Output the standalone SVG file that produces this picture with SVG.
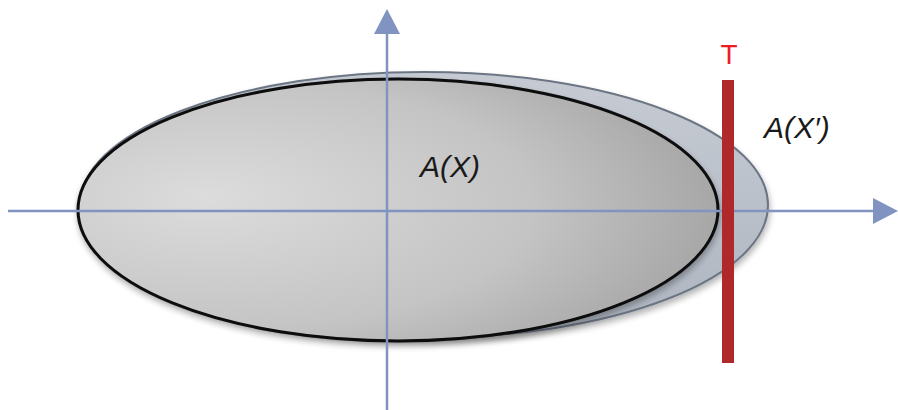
<svg xmlns="http://www.w3.org/2000/svg" width="898" height="410" viewBox="0 0 898 410">
<defs>
<radialGradient id="gFront" cx="0.25" cy="0.5" r="0.8" fx="0.2" fy="0.45">
<stop offset="0" stop-color="#dcdcdc"/>
<stop offset="0.6" stop-color="#c4c4c4"/>
<stop offset="1" stop-color="#a2a2a2"/>
</radialGradient>
<linearGradient id="gBack" x1="0" y1="0" x2="0" y2="1">
<stop offset="0" stop-color="#c6cbd3"/>
<stop offset="1" stop-color="#aeb5c0"/>
</linearGradient>
<filter id="shadow" x="-10%" y="-10%" width="120%" height="130%">
<feGaussianBlur in="SourceAlpha" stdDeviation="3"/>
<feOffset dx="1" dy="4" result="b"/>
<feComponentTransfer><feFuncA type="linear" slope="0.3"/></feComponentTransfer>
<feMerge><feMergeNode/><feMergeNode in="SourceGraphic"/></feMerge>
</filter>
</defs>
<style>
.axis{stroke:#8193c0;stroke-width:2.5;fill:none}
.head{fill:#8193c0}
.lbl{font-family:"Liberation Sans",Arial,sans-serif;font-style:italic;font-size:30px;fill:#1a1a1a}
</style>
<g id="back-ellipse">
<ellipse cx="424" cy="205" rx="344" ry="133" fill="url(#gBack)" stroke="#6c7584" stroke-width="2" filter="url(#shadow)"/>
</g>
<g id="front-ellipse">
<ellipse cx="398" cy="210" rx="320" ry="131" fill="url(#gFront)" stroke="#0a0a0a" stroke-width="3" filter="url(#shadow)"/>
</g>
<g id="connectors">
<line class="axis" x1="8" y1="211" x2="873" y2="211"/>
<path class="head" d="M873,198 L898,211 L873,224 Z"/>
<line class="axis" x1="387" y1="410" x2="387" y2="33"/>
<path class="head" d="M374,34 L387,9 L400,34 Z"/>
</g>
<g id="T-line">
<rect x="722" y="80" width="12" height="283" fill="#b0292a"/>
<text x="729" y="64" text-anchor="middle" font-family="Liberation Sans,Arial,sans-serif" font-size="28" fill="#ee1c25">T</text>
</g>
<g id="label-AX">
<text class="lbl" x="420" y="177">A(X)</text>
</g>
<g id="label-AX-prime">
<text class="lbl" x="764" y="138">A(X′)</text>
</g>
</svg>
